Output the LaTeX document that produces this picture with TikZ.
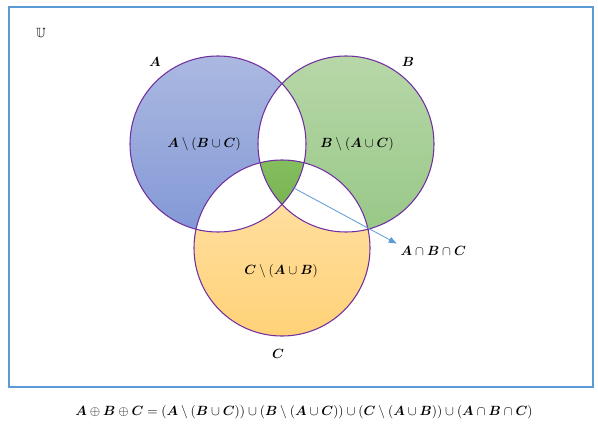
\documentclass[tikz,border=0pt]{standalone}
\usepackage{amsmath,amssymb,bm}
\usetikzlibrary{arrows.meta}

\definecolor{frameblue}{HTML}{5B9BD5}
\definecolor{rim}{HTML}{7030A0}

\newcommand{\setA}{(218,144) circle[radius=88]}
\newcommand{\setB}{(346,144) circle[radius=88]}
\newcommand{\setC}{(282,248) circle[radius=88]}

\begin{document}
\begin{tikzpicture}[x=0.75pt, y=-0.75pt]
\tikzstyle{lbl} = [inner sep=1pt]
\tikzstyle{rimline} = [draw=rim, line width=0.8pt]

\useasboundingbox (0,0) rectangle (598,431);
\draw[frameblue, line width=1.5pt] (9,7) rectangle (593,387);

% the three sets
\shade[top color={rgb,255:red,171;green,185;blue,225}, bottom color={rgb,255:red,131;green,152;blue,214}] \setA;
\shade[top color={rgb,255:red,183;green,215;blue,168}, bottom color={rgb,255:red,152;green,200;blue,135}] \setB;
\shade[top color={rgb,255:red,255;green,226;blue,170}, bottom color={rgb,255:red,255;green,210;blue,120}] \setC;

% pairwise parts left white
\begin{scope}
\clip \setA;
\fill[white] \setB;
\fill[white] \setC;
\end{scope}
\begin{scope}
\clip \setB;
\fill[white] \setC;
\end{scope}

% triple part
\begin{scope}
\clip \setA;
\clip \setB;
\shade[top color={rgb,255:red,132;green,190;blue,95}, bottom color={rgb,255:red,90;green,155;blue,45}] \setC;
\end{scope}

\draw[rimline] \setA;
\draw[rimline] \setB;
\draw[rimline] \setC;

\node[lbl] (uni) at (41,33) {$\bm{\mathbb{U}}$};
\node[lbl] (nameA) at (155,62) {$\bm{A}$};
\node[lbl] (nameB) at (408,62) {$\bm{B}$};
\node[lbl] (nameC) at (278,354) {$\bm{C}$};

\node[lbl] (onlyA) at (204,144) {$\bm{A}\setminus(\bm{B}\cup\bm{C})$};
\node[lbl] (onlyB) at (357,144) {$\bm{B}\setminus(\bm{A}\cup\bm{C})$};
\node[lbl] (onlyC) at (281,271) {$\bm{C}\setminus(\bm{A}\cup\bm{B})$};
\node[lbl, anchor=west] (allABC) at (399,251) {$\bm{A}\cap\bm{B}\cap\bm{C}$};

\coordinate (core) at (292,187);
\draw[frameblue, line width=0.6pt, -{Triangle[length=6pt,width=4.5pt]}, shorten >=2pt] (core) -- (allABC.north west);

\node[lbl] (formula) at (304,412) {$\bm{A}\oplus\bm{B}\oplus\bm{C}=(\bm{A}\setminus(\bm{B}\cup\bm{C}))\cup(\bm{B}\setminus(\bm{A}\cup\bm{C}))\cup(\bm{C}\setminus(\bm{A}\cup\bm{B}))\cup(\bm{A}\cap\bm{B}\cap\bm{C})$};
\end{tikzpicture}
\end{document}
